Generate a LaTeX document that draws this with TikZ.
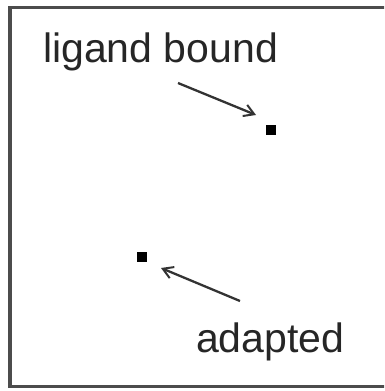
\documentclass[tikz,border=0pt]{standalone}
\usepackage{fontspec}
\setmainfont{Liberation Sans}
\usetikzlibrary{arrows.meta}
\begin{document}
\begin{tikzpicture}[x=1pt,y=-1pt,
  lbl/.style={font=\fontsize{41}{41}\selectfont, inner sep=0pt, text=black!85},
  dot/.style={fill=black, minimum size=10pt, inner sep=0pt},
  arr/.style={line width=2.3pt, draw=black!80, -{Straight Barb[length=10pt,width=12pt,line width=2pt]}},
  frame/.style={line width=3.2pt, draw=black!70}]
\useasboundingbox (0,0) rectangle (384,391);
\clip (0,0) rectangle (384,391);
\draw[frame] (420,7.5) -- (10,7.5) -- (10,386.5) -- (420,386.5);
\node[lbl, anchor=base west] (t1) at (43,62) {ligand bound};
\node[lbl, anchor=base west] (t2) at (196,352) {adapted};
\node[dot] (d1) at (271,130) {};
\node[dot] (d2) at (142,257) {};
\coordinate (a1) at (178,83);
\coordinate (b1) at (256,115);
\coordinate (a2) at (240,301);
\coordinate (b2) at (161,268);
\draw[arr] (a1) -- (b1);
\draw[arr] (a2) -- (b2);
\end{tikzpicture}
\end{document}
